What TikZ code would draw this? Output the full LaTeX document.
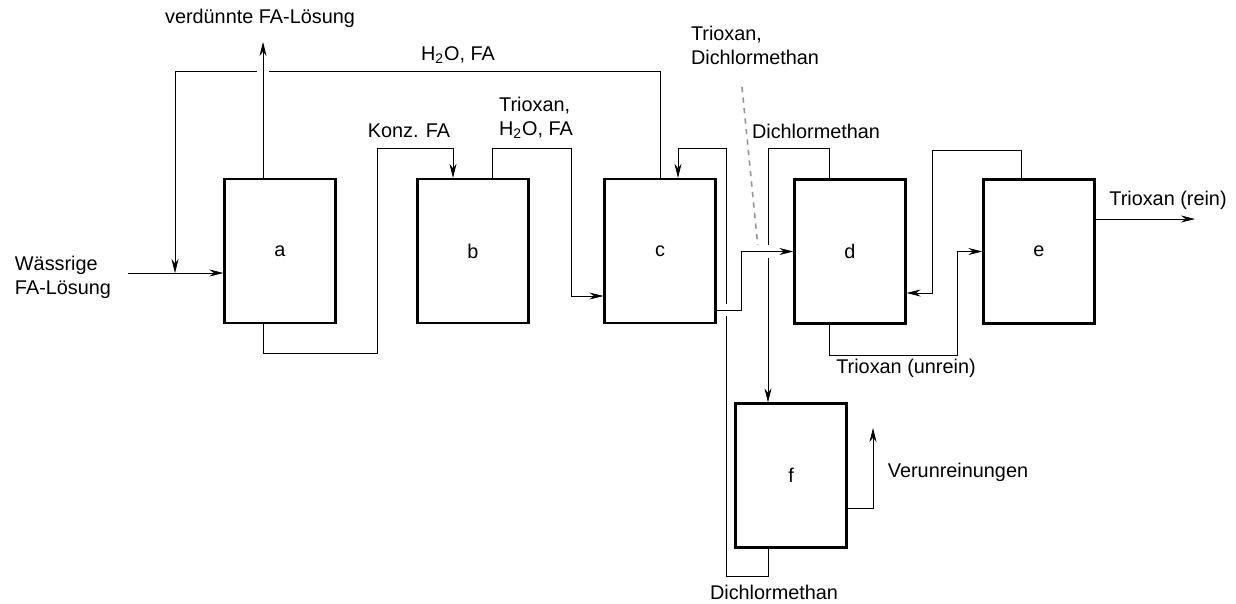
\documentclass[tikz,border=0pt]{standalone}
\usepackage{fontspec}
\setmainfont{Liberation Sans}
\usetikzlibrary{arrows.meta,backgrounds}
\tikzset{
  unit/.style={draw, line width=1.3pt, minimum width=2.22cm, minimum height=2.88cm, inner sep=0pt, font=\fontsize{11.3}{13.6}\selectfont},
  lbl/.style={font=\fontsize{11.3}{13.6}\selectfont, inner sep=0pt, align=left},
  pipe/.style={line width=1pt},
  over/.style={preaction={draw=white, line width=7pt, -}},
}

\begin{document}
\begin{tikzpicture}[x=0.02cm, y=-0.02cm, >={Stealth[length=8pt,width=4pt]}]
\useasboundingbox (0,0) rectangle (1236,603);
% Apparate
\node[unit] (a) at (280,251) {a};
\node[unit] (b) at (473,251) {b};
\node[unit] (c) at (660,251) {c};
\node[unit] (d) at (850,251.5) {d};
\node[unit] (e) at (1039,251.5) {e};
\node[unit] (f) at (791,475.5) {f};

% Knickpunkte der Leitungen
\coordinate (feed) at (128,273);
\coordinate (j1) at (175,273);
\coordinate (top) at (0,71);
\coordinate (out1) at (263,42);
\coordinate (k1) at (377,353);
\coordinate (k2) at (453,148);
\coordinate (m0) at (492,148);
\coordinate (m2) at (571,296);
\coordinate (r1) at (726,576);
\coordinate (r2) at (678,148);
\coordinate (s1) at (768,148);
\coordinate (s2) at (829,148);
\coordinate (q1) at (741,310);
\coordinate (u0) at (1021,150);
\coordinate (u1) at (932,293);
\coordinate (v1) at (957,355);
\coordinate (pure) at (1195,219);
\coordinate (w0) at (873,508);
\coordinate (w1) at (873,428);
\coordinate (dm1) at (742,87);
\coordinate (dm2) at (758,248);

\begin{scope}[on background layer, pipe]
  \draw[->] (feed) -- (feed -| a.west);
  \draw[->] (c.north) -- (c.north |- top) -| (j1);
  \draw[->] (out1 |- a.south) |- (k1) |- (k2) -- (k2 |- b.north);
  \draw[->] (m0 |- b.north) -- (m0) -| (m2) -- (m2 -| c.west);
  \draw[->] (s1 |- f.south) |- (r1) |- (r2) -- (r2 |- c.north);
  \draw[->] (s2 |- d.north) -- (s2) -- (s1) -- (s1 |- f.north);
  \draw[dashed, gray!85, line width=0.9pt] (dm1) -- (dm2);
  \draw[->] (u0 |- e.north) -- (u0) -| (u1) -- (u1 -| d.east);
  \draw[->] (s2 |- d.south) |- (v1) |- (e.west);
  \draw[->] (pure -| e.east) -- (pure);
  \draw[->] (w0 -| f.east) -- (w0) -- (w1);
  % kreuzende Leitungen
  \draw[->, over] (out1 |- a.north) -- (out1);
  \draw[->, over] (q1 -| c.east) -- (q1) |- (d.west);
\end{scope}

% Beschriftungen
\node[lbl] (lverd) at (260,18) {verdünnte FA-Lösung};
\node[lbl] (lwasser) at (458,55) {H\textsubscript{2}O, FA};
\node[lbl] (lkonz) at (409,131) {Konz. FA};
\node[lbl] (ltrio) at (536,118) {Trioxan,\\H\textsubscript{2}O, FA};
\node[lbl] (ltd) at (755,45) {Trioxan,\\Dichlormethan};
\node[lbl] (ldcm) at (816,131) {Dichlormethan};
\node[lbl] (lrein) at (1168,200) {Trioxan (rein)};
\node[lbl] (lunrein) at (906,368) {Trioxan (unrein)};
\node[lbl] (lfeed) at (63,277) {Wässrige\\FA-Lösung};
\node[lbl] (lverun) at (958,472) {Verunreinungen};
\node[lbl] (ldcm2) at (774,592) {Dichlormethan};
\end{tikzpicture}
\end{document}
